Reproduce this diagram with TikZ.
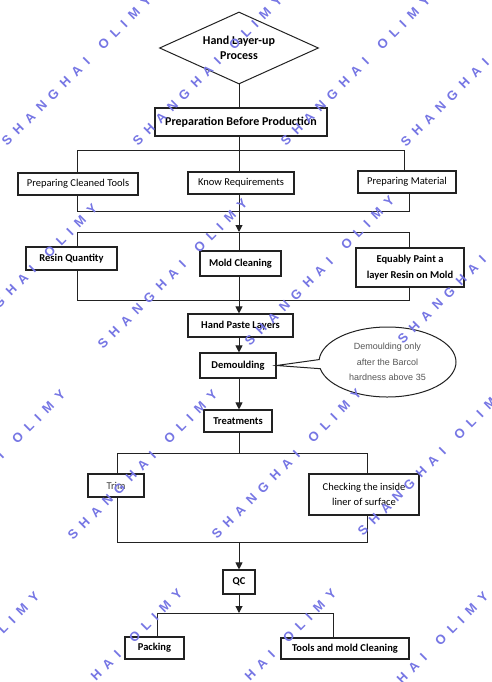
\documentclass[tikz,border=0pt]{standalone}
\usepackage{fontspec}
\setmainfont{Carlito}
\newfontfamily\arialf{Liberation Sans}
\usetikzlibrary{shapes.geometric,shapes.callouts,arrows.meta}
\definecolor{lc}{HTML}{222222}
\definecolor{wmblue}{RGB}{118,118,228}
\definecolor{notegray}{HTML}{555555}
\newcommand{\wmtext}{S\kern7pt H\kern7pt A\kern7pt N\kern7pt G\kern7pt H\kern7pt A\kern7pt I\kern7pt\ \kern7pt O\kern7pt L\kern7pt I\kern7pt M\kern7pt Y}
\begin{document}
\begin{tikzpicture}[x=1pt,y=-1pt,
  box/.style={draw=lc, line width=1.1pt, inner sep=0pt, align=center, text=black, font=\fontsize{10.5}{15.5}\selectfont},
  boldbox/.style={box, font=\fontsize{10.5}{15.5}\selectfont\bfseries},
  conn/.style={draw=lc, line width=1pt},
  arr/.style={conn, -{Triangle[length=7pt,width=7pt]}},
  wm/.style={text=wmblue, font=\arialf\bfseries\fontsize{13}{13}\selectfont, rotate=45, anchor=base west, inner sep=0pt}
]
\useasboundingbox (0,0) rectangle (492,682);
\fill[white] (0,0) rectangle (492,682);

% nodes
\node[diamond, draw=lc, line width=1pt, minimum width=159pt, minimum height=72pt, inner sep=0pt, aspect=2.2, align=center, font=\fontsize{12}{15}\selectfont\bfseries] (start) at (239,48) {Hand Layer-up\\Process};
\node[boldbox, minimum width=172pt, minimum height=28pt, font=\fontsize{12}{14}\selectfont\bfseries] (prep) at (241,122) {Preparation Before Production};

\node[box, minimum width=120pt, minimum height=22pt] (tools) at (78,184) {Preparing Cleaned Tools};
\node[box, minimum width=106pt, minimum height=22pt] (know) at (241,183) {Know Requirements};
\node[box, minimum width=98pt, minimum height=22pt] (material) at (407,182) {Preparing Material};

\node[boldbox, minimum width=91pt, minimum height=23pt] (resin) at (71.5,258.5) {Resin Quantity};
\node[boldbox, minimum width=81pt, minimum height=25pt] (moldc) at (240.5,263.5) {Mold Cleaning};
\node[boldbox, minimum width=108pt, minimum height=39pt] (paint) at (410,267.5) {Equably Paint a\\layer Resin on Mold};

\node[boldbox, minimum width=105pt, minimum height=23pt] (paste) at (240.5,325.5) {Hand Paste Layers};
\node[boldbox, minimum width=76pt, minimum height=25pt] (demould) at (238,365.5) {Demoulding};
\node[boldbox, minimum width=68pt, minimum height=22pt] (treat) at (238,421) {Treatments};

\node[ellipse callout, draw=lc, line width=1pt, minimum width=137pt, minimum height=70pt, inner sep=0pt, callout absolute pointer={(demould.east)}, align=center, text=notegray, font=\arialf\fontsize{9}{15.5}\selectfont] (note) at (387.5,362) {Demoulding only\\after the Barcol\\hardness above 35};

\node[box, minimum width=56pt, minimum height=23pt, text=black!75] (trim) at (116,485.5) {Trim};
\node[box, minimum width=110pt, minimum height=41pt] (check) at (364,494.5) {Checking the inside\\liner of surface};

\node[boldbox, minimum width=32pt, minimum height=24pt] (qc) at (239,582) {QC};
\node[boldbox, minimum width=59pt, minimum height=22pt] (packing) at (154.5,648) {Packing};
\node[boldbox, minimum width=128pt, minimum height=21pt] (toolsm) at (345,648.5) {Tools and mold Cleaning};

% junction coordinates
\coordinate (t1) at (239,150); \coordinate (t1L) at (77,150); \coordinate (t1R) at (404,150);
\coordinate (b1) at (239,211); \coordinate (b1L) at (77,211); \coordinate (b1R) at (409,211);
\coordinate (t2) at (239,232); \coordinate (t2L) at (77,232); \coordinate (t2R) at (409,232);
\coordinate (b2) at (239,300); \coordinate (b2L) at (77,300); \coordinate (b2R) at (409,300);
\coordinate (t3) at (239,453); \coordinate (t3L) at (117,453); \coordinate (t3R) at (367,453);
\coordinate (b3) at (239,542); \coordinate (b3L) at (117,542); \coordinate (b3R) at (367,542);
\coordinate (t4) at (239,613); \coordinate (t4L) at (157,613); \coordinate (t4R) at (333,613);

% connectors
\draw[conn] (start.south) -- (start.south |- prep.north);
\draw[conn] (prep.south -| t1) -- (t1);
\draw[conn] (t1L) -- (t1R);
\draw[conn] (t1L) -- (t1L |- tools.north);
\draw[conn] (t1) -- (t1 |- know.north);
\draw[conn] (t1R) -- (t1R |- material.north);
\draw[conn] (tools.south -| b1L) -- (b1L) -- (b1R) -- (material.south -| b1R);
\draw[conn] (know.south -| b1) -- (b1);
\draw[arr] (b1) -- (t2);
\draw[conn] (t2L) -- (t2R);
\draw[conn] (t2L) -- (t2L |- resin.north);
\draw[conn] (t2) -- (t2 |- moldc.north);
\draw[conn] (t2R) -- (t2R |- paint.north);
\draw[conn] (resin.south -| b2L) -- (b2L) -- (b2R) -- (paint.south -| b2R);
\draw[conn] (moldc.south -| b2) -- (b2);
\draw[arr] (b2) -- (b2 |- paste.north);
\draw[arr] (paste.south -| t3) -- (demould.north -| t3);
\draw[arr] (demould.south -| t3) -- (treat.north -| t3);
\draw[conn] (treat.south -| t3) -- (t3);
\draw[conn] (t3L) -- (t3R);
\draw[conn] (t3L) -- (t3L |- trim.north);
\draw[conn] (t3R) -- (t3R |- check.north);
\draw[conn] (trim.south -| b3L) -- (b3L) -- (b3R) -- (check.south -| b3R);
\draw[arr] (b3) -- (qc.north -| b3);
\draw[arr] (qc.south -| b3) -- (t4);
\draw[conn] (t4L) -- (t4R);
\draw[conn] (t4L) -- (t4L |- packing.north);
\draw[conn] (t4R) -- (t4R |- toolsm.north);

% watermark
\node[wm] (wm1) at (7,147) {\wmtext};
\node[wm] (wm2) at (138,147) {\wmtext};
\node[wm] (wm3) at (286,147) {\wmtext};
\node[wm] (wm4) at (406,148) {\wmtext};
\node[wm] (wm5) at (-47,355) {\wmtext};
\node[wm] (wm6) at (103,350) {\wmtext};
\node[wm] (wm7) at (250,347) {\wmtext};
\node[wm] (wm8) at (403,345) {\wmtext};
\node[wm] (wm9) at (-79,541) {\wmtext};
\node[wm] (wm10) at (73,541) {\wmtext};
\node[wm] (wm11) at (217,540) {\wmtext};
\node[wm] (wm12) at (363,537) {\wmtext};
\node[wm] (wm13) at (-105,743) {\wmtext};
\node[wm] (wm14) at (38,740) {\wmtext};
\node[wm] (wm15) at (192,740) {\wmtext};
\node[wm] (wm16) at (344,743) {\wmtext};
\end{tikzpicture}
\end{document}
